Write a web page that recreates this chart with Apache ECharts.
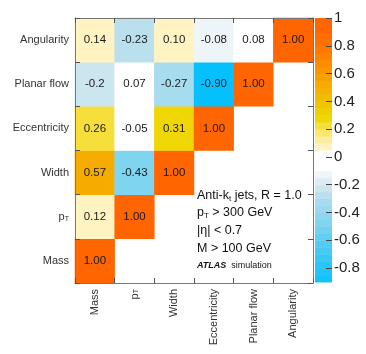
<!DOCTYPE html>
<html>
<head>
<meta charset="utf-8">
<script src="https://cdn.jsdelivr.net/npm/echarts@6/dist/echarts.min.js"></script>
<style>
  html, body { margin: 0; padding: 0; background: #fff; }
  #chart { width: 366px; height: 354px; }
</style>
</head>
<body>
<div id="chart"></div>
<script>
// variables, bottom-to-top on y and left-to-right on x
var variables = ['Mass', 'pT', 'Width', 'Eccentricity', 'Planar flow', 'Angularity']
// correlation rows (one per y category), entries by x column, as printed
var rowMass = ['1.00']
var rowPt = ['0.12', '1.00']
var rowWidth = ['0.57', '-0.43', '1.00']
var rowEccentricity = ['0.26', '-0.05', '0.31', '1.00']
var rowPlanarFlow = ['-0.2', '0.07', '-0.27', '-0.90', '1.00']
var rowAngularity = ['0.14', '-0.23', '0.10', '-0.08', '0.08', '1.00']
var colorbarTicks = [1, 0.8, 0.6, 0.4, 0.2, 0, -0.2, -0.4, -0.6, -0.8]

var zMin = -0.9
var zMax = 1
var zStep = 0.05

var paletteStops = [
  [1.0, '#ff6200'],
  [0.8, '#ff7c00'],
  [0.6, '#f6a600'],
  [0.45, '#f0c200'],
  [0.33, '#eed600'],
  [0.27, '#f7e040'],
  [0.2, '#fbea8c'],
  [0.12, '#fff4c6'],
  [0.09, '#ffffff'],
  [-0.05, '#ffffff'],
  [-0.075, '#edf5f9'],
  [-0.2, '#c4e2ee'],
  [-0.27, '#a8dcef'],
  [-0.43, '#7ed4f0'],
  [-0.6, '#4ccaf2'],
  [-0.9, '#00bfff']
]

function hexToRgb (h) {
  return [parseInt(h.substr(1, 2), 16), parseInt(h.substr(3, 2), 16), parseInt(h.substr(5, 2), 16)]
}

function paletteAt (v) {
  for (var i = 0; i < paletteStops.length - 1; i++) {
    var hi = paletteStops[i]
    var lo = paletteStops[i + 1]
    if (v <= hi[0] && v >= lo[0]) {
      var t = (v - lo[0]) / (hi[0] - lo[0])
      var a = hexToRgb(lo[1])
      var b = hexToRgb(hi[1])
      var c = a.map(function (x, k) { return Math.round(x + (b[k] - x) * t) })
      return 'rgb(' + c.join(',') + ')'
    }
  }
  return v > 0 ? paletteStops[0][1] : paletteStops[paletteStops.length - 1][1]
}

var rows = [rowMass, rowPt, rowWidth, rowEccentricity, rowPlanarFlow, rowAngularity]
var cells = []
rows.forEach(function (row, y) {
  row.forEach(function (txt, x) {
    cells.push([x, y, Number(txt), txt])
  })
})

var pieces = []
var bands = []
var nBands = Math.round((zMax - zMin) / zStep)
for (var i = 0; i < nBands; i++) {
  var lo = Math.round((zMin + i * zStep) * 100) / 100
  var hi = Math.round((zMin + (i + 1) * zStep) * 100) / 100
  var mid = (lo + hi) / 2
  var piece = { gte: lo, color: paletteAt(mid) }
  if (i === nBands - 1) piece.lte = hi
  else piece.lt = hi
  pieces.push(piece)
  bands.push(['bar', lo, hi, mid])
}

var font = 'Liberation Sans'

function varLabel (v) {
  return v === 'pT' ? '{p|p}{t|T}' : v
}

var labelRich = {
  p: { fontSize: 11, fontFamily: font, color: '#333' },
  t: { fontSize: 7, fontFamily: font, color: '#333', verticalAlign: 'bottom', lineHeight: 8 }
}

var frameAxis = {
  axisLine: { show: true, lineStyle: { color: '#777', width: 1 } },
  axisTick: { show: true, inside: true, length: 5, interval: 0, lineStyle: { color: '#555' } },
  splitLine: { show: false },
  z: 10
}

var option = {
  backgroundColor: '#fff',
  animation: false,
  grid: [
    { left: 75, top: 18, width: 238, height: 265 },
    { left: 315, top: 18, width: 17, height: 264 }
  ],
  xAxis: [
    Object.assign({
      type: 'category', gridIndex: 0, data: variables, position: 'bottom',
      axisLabel: { rotate: 90, margin: 6, fontSize: 11, fontFamily: font, color: '#333', formatter: varLabel, rich: labelRich }
    }, frameAxis),
    Object.assign({
      type: 'category', gridIndex: 0, data: variables, position: 'top',
      axisLabel: { show: false }
    }, frameAxis),
    { type: 'category', gridIndex: 1, data: ['bar'], show: false }
  ],
  yAxis: [
    Object.assign({
      type: 'category', gridIndex: 0, data: variables, position: 'left',
      axisLabel: { margin: 6, fontSize: 11, fontFamily: font, color: '#333', formatter: varLabel, rich: labelRich }
    }, frameAxis),
    Object.assign({
      type: 'category', gridIndex: 0, data: variables, position: 'right',
      axisLabel: { show: false }
    }, frameAxis),
    {
      type: 'value', gridIndex: 1, min: zMin, max: zMax, position: 'right',
      axisLine: { show: false },
      axisTick: { show: true, inside: true, length: 6, customValues: colorbarTicks, lineStyle: { color: '#444' } },
      axisLabel: { margin: 2, fontSize: 15, fontFamily: font, color: '#222', customValues: colorbarTicks },
      splitLine: { show: false },
      z: 10
    }
  ],
  visualMap: {
    type: 'piecewise',
    show: false,
    dimension: 2,
    seriesIndex: [0, 1],
    pieces: pieces
  },
  series: [
    {
      type: 'heatmap',
      xAxisIndex: 0,
      yAxisIndex: 0,
      data: cells,
      label: {
        show: true,
        fontSize: 11.5,
        fontFamily: font,
        color: '#1a1a1a',
        formatter: function (p) { return p.value[3] }
      }
    },
    {
      type: 'custom',
      xAxisIndex: 2,
      yAxisIndex: 2,
      data: bands,
      encode: { x: 0, y: [1, 2] },
      renderItem: function (params, api) {
        var top = api.coord([api.value(0), api.value(2)])
        var bot = api.coord([api.value(0), api.value(1)])
        var cs = params.coordSys
        return {
          type: 'rect',
          shape: { x: cs.x, y: top[1], width: cs.width, height: bot[1] - top[1] + 0.5 },
          style: { fill: api.visual('color') }
        }
      }
    }
  ],
  graphic: [
    {
      type: 'rect', left: 195, top: 184, shape: { width: 112, height: 94 },
      style: { fill: '#fff' }, z: 5
    },
    {
      type: 'text', left: 197, top: 189, z: 6,
      style: {
        text: '{a|Anti-k}{s|t}{a| jets, R = 1.0}',
        rich: {
          a: { fontSize: 12.5, fontFamily: font, fill: '#111', lineHeight: 15 },
          s: { fontSize: 8, fontFamily: font, fill: '#111', verticalAlign: 'bottom', lineHeight: 8 }
        }
      }
    },
    {
      type: 'text', left: 197, top: 206, z: 6,
      style: {
        text: '{a|p}{s|T}{a| > 300 GeV}',
        rich: {
          a: { fontSize: 12.5, fontFamily: font, fill: '#111', lineHeight: 15 },
          s: { fontSize: 8, fontFamily: font, fill: '#111', verticalAlign: 'bottom', lineHeight: 8 }
        }
      }
    },
    {
      type: 'text', left: 197, top: 224, z: 6,
      style: { text: '|η| < 0.7', fontSize: 12.5, fontFamily: font, fill: '#111' }
    },
    {
      type: 'text', left: 197, top: 242, z: 6,
      style: { text: 'M > 100 GeV', fontSize: 12.5, fontFamily: font, fill: '#111' }
    },
    {
      type: 'text', left: 197, top: 261, z: 6,
      style: {
        text: '{b|ATLAS}{c|  simulation}',
        rich: {
          b: { fontSize: 9, fontFamily: font, fontWeight: 'bold', fontStyle: 'italic', fill: '#111' },
          c: { fontSize: 9, fontFamily: font, fill: '#111' }
        }
      }
    }
  ]
}

var myChart = echarts.init(document.getElementById('chart'))
myChart.setOption(option)
</script>
</body>
</html>
